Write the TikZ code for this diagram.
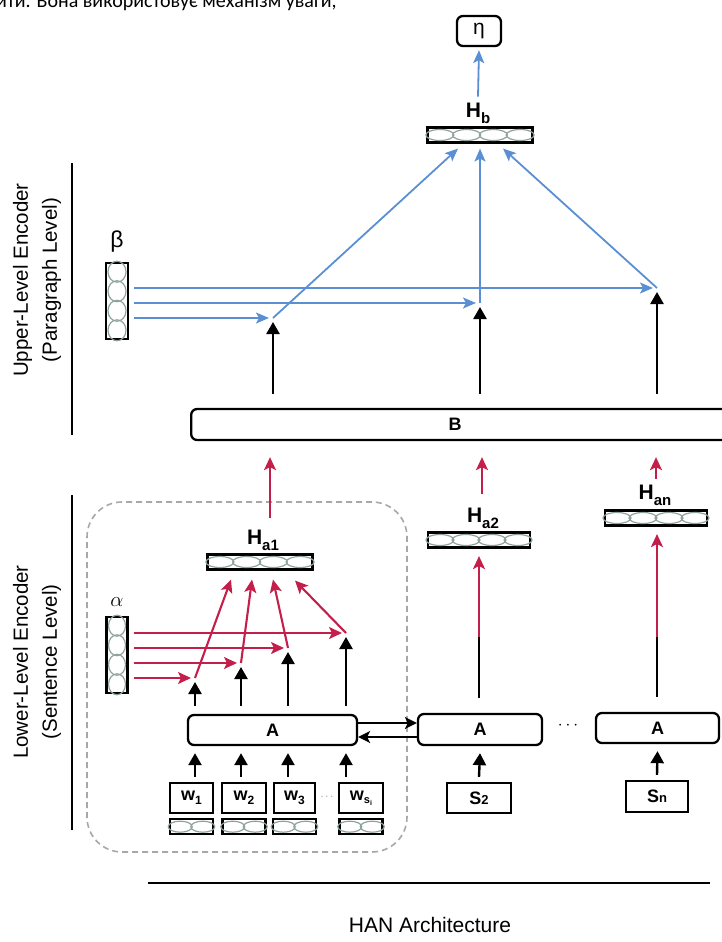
\documentclass[tikz,border=0pt]{standalone}
\usepackage{fontspec}
\setmainfont{Liberation Sans}
\newfontfamily\bodyfont{Carlito}
\usetikzlibrary{arrows.meta,calc}

\definecolor{attblue}{HTML}{5B8FD4}
\definecolor{attred}{HTML}{C41E4A}
\definecolor{cellgray}{HTML}{8FA39B}
\definecolor{dashgray}{HTML}{A8A8A8}

% subscripted bold label, e.g. \sublab{H}{a1}
\newcommand\sublab[2]{\textbf{#1}\raisebox{-0.28em}{\fontsize{15}{15}\selectfont\textbf{#2}}}
% smaller variant for the word boxes
\newcommand\wordlab[1]{\textbf{w}\raisebox{-0.22em}{\fontsize{12}{12}\selectfont\textbf{#1}}}

\begin{document}
\begin{tikzpicture}[x=1pt,y=-1pt,
  box/.style={draw, line width=2.3pt, rounded corners=6pt, inner sep=0pt, font=\fontsize{18}{18}\selectfont\bfseries},
  sqbox/.style={draw, line width=2.3pt, inner sep=0pt, font=\fontsize{18}{18}\selectfont},
  vec/.style={draw, line width=2.1pt, inner sep=0pt},
  cell/.style={draw=cellgray, line width=1.2pt},
  lab/.style={inner sep=0pt, font=\fontsize{20}{20}\selectfont},
  side/.style={rotate=90, align=center, inner sep=0pt, font=\fontsize{20.5}{29}\selectfont},
  blk/.style={line width=2.4pt, -{Triangle[length=12pt,width=13pt]}},
  thinblk/.style={line width=2pt, -{Stealth[length=12pt,width=12pt,inset=3pt]}},
  bluearr/.style={draw=attblue, line width=1.8pt, -{Stealth[length=13pt,width=11pt,inset=3pt]}},
  redarr/.style={draw=attred, line width=2.1pt, -{Stealth[length=13pt,width=12pt,inset=3pt]}},
]
\useasboundingbox (0,0) rectangle (722,942);
\clip (0,0) rectangle (722,942);

% running text line above the figure
\node[anchor=base west, inner sep=0pt, font=\bodyfont\fontsize{20}{24}\selectfont] (runtext) at (-4,8) {ити. Вона використовує механізм уваги,};

% ---------- upper level ----------
\node[box, minimum width=44, minimum height=30, font=\fontsize{21}{21}\selectfont] (eta) at (479,31) {η};
\node[vec, minimum width=105, minimum height=15] (hb) at (480,135) {};
\foreach \i in {1,...,4}
  \draw[cell] ($(hb.west)!{(\i-0.5)/4}!(hb.east)$) ellipse [x radius=14pt, y radius=5.5pt];
\node[lab, font=\fontsize{21}{21}\selectfont] (hblab) at (478,113) {\sublab{H}{b}};
\draw[bluearr] ([yshift=6pt]hblab.north) -- ([yshift=-3pt]eta.south);

\node[vec, minimum width=22, minimum height=76] (beta) at (117,301) {};
\foreach \i in {1,...,4}
  \draw[cell] ($(beta.north)!{(\i-0.5)/4}!(beta.south)$) ellipse [x radius=9pt, y radius=10.5pt];
\node[lab, font=\fontsize{23}{23}\selectfont] (betalab) at (117,242) {β};

\coordinate (u1) at (273,318);
\coordinate (u2) at (480,303);
\coordinate (u3) at (657,288);

\foreach \u in {u1,u2,u3}
  \draw[bluearr] ([xshift=5pt]beta.east |- \u) -- ([xshift=-4pt]\u);
\draw[bluearr] (u1) -- ([xshift=-22pt,yshift=-5pt]hb.south);
\draw[bluearr] (u2) -- ([yshift=-5pt]hb.south);
\draw[bluearr] (u3) -- ([xshift=23pt,yshift=-5pt]hb.south);

\node[box, minimum width=570, minimum height=31, anchor=west] (B) at (190,424.5) {};
\node[lab, font=\fontsize{18}{18}\selectfont\bfseries] (Blab) at (455,424.5) {B};
\foreach \u in {u1,u2,u3}
  \draw[blk] ([yshift=14pt]B.north -| \u) -- ([yshift=-4pt]\u);

% left captions
\draw[line width=2.2pt] (72,163) coordinate (ul1) -- (72,435) coordinate (ul2);
\node[side] (uplab) at (37,280) {Upper-Level Encoder\\(Paragraph Level)};
\draw[line width=2.2pt] (72,495) coordinate (ll1) -- (72,830) coordinate (ll2);
\node[side] (lowlab) at (37,662) {Lower-Level Encoder\\(Sentence Level)};

% ---------- lower level ----------
\node[draw=dashgray, dashed, dash pattern=on 6pt off 4pt, line width=1.6pt, rounded corners=35pt,
      minimum width=320, minimum height=350, inner sep=0pt] (frame) at (247,677) {};

\node[vec, minimum width=105, minimum height=15] (ha1) at (260,562) {};
\node[vec, minimum width=102, minimum height=15] (ha2) at (479,540) {};
\node[vec, minimum width=102, minimum height=15] (han) at (656,518) {};
\foreach \v in {ha1,ha2,han}
  \foreach \i in {1,...,4}
    \draw[cell] ($(\v.west)!{(\i-0.5)/4}!(\v.east)$) ellipse [x radius=14pt, y radius=5.5pt];
\node[lab, font=\fontsize{21}{21}\selectfont] (ha1lab) at (263,540) {\sublab{H}{a1}};
\node[lab, font=\fontsize{21}{21}\selectfont] (ha2lab) at (483,518) {\sublab{H}{a2}};
\node[lab, font=\fontsize{21}{21}\selectfont] (hanlab) at (655,495) {\sublab{H}{an}};

\draw[redarr] ([yshift=12pt]ha1lab.north -| 270,0) -- ([yshift=-16pt]B.south -| 270,0);
\draw[redarr] ([yshift=14pt]ha2lab.north -| 482,0) -- ([yshift=-16pt]B.south -| 482,0);
\draw[redarr] ([yshift=6pt]hanlab.north -| 656,0) -- ([yshift=-16pt]B.south -| 656,0);

\node[vec, minimum width=21, minimum height=76] (alpha) at (117,655) {};
\foreach \i in {1,...,4}
  \draw[cell] ($(alpha.north)!{(\i-0.5)/4}!(alpha.south)$) ellipse [x radius=8.5pt, y radius=10.5pt];
\node[lab, font=\fontsize{21}{21}\selectfont] (alphalab) at (117,602) {$\alpha$};

\coordinate (l1) at (195,678);
\coordinate (l2) at (241,663);
\coordinate (l3) at (288,648);
\coordinate (l4) at (346,633);

\foreach \l in {l1,l2,l3,l4}
  \draw[redarr] ([xshift=5pt]alpha.east |- \l) -- ([xshift=-4pt]\l);
\draw[redarr] (l1) -- ([xshift=-29pt,yshift=-9pt]ha1.south);
\draw[redarr] (l2) -- ([xshift=-8pt,yshift=-9pt]ha1.south);
\draw[redarr] (l3) -- ([xshift=13pt,yshift=-9pt]ha1.south);
\draw[redarr] (l4) -- ([xshift=35pt,yshift=-10pt]ha1.south);

\node[box, minimum width=169, minimum height=30] (A1) at (272.5,730) {A};
\node[box, minimum width=124, minimum height=31] (A2) at (480,729.5) {A};
\node[box, minimum width=123, minimum height=30] (A3) at (657.5,728) {A};
\node[lab, font=\fontsize{16}{16}\selectfont] (adots) at (568,726) {$\cdots$};

\foreach \l in {l1,l2,l3,l4}
  \draw[blk] ([yshift=8pt]A1.north -| \l) -- ([yshift=-4pt]\l);

\draw[thinblk] ([yshift=7pt]A1.east) -- ([yshift=7pt]A1.east -| A2.west);
\draw[thinblk] ([yshift=-7pt]A1.east -| A2.west) -- ([yshift=-7pt]A1.east);

% sentence-level outputs: black from the encoder, turning red towards the vector
\coordinate (m2) at (479,637);
\coordinate (m3) at (657,637);
\draw[line width=2.4pt] ([yshift=15pt]A2.north -| m2) -- (m2);
\draw[redarr] (m2) -- ([yshift=-7.5pt]ha2.south -| m2);
\draw[line width=2.4pt] ([yshift=15pt]A3.north -| m3) -- (m3);
\draw[redarr] (m3) -- ([yshift=-7.5pt]han.south -| m3);

% word inputs
\node[sqbox, minimum width=43, minimum height=30] (w1) at (191.5,798) {\wordlab{1}};
\node[sqbox, minimum width=44, minimum height=30] (w2) at (244,798) {\wordlab{2}};
\node[sqbox, minimum width=41, minimum height=30] (w3) at (294.5,798) {\wordlab{3}};
\node[sqbox, minimum width=44, minimum height=30] (ws) at (361,798) {\textbf{w}\raisebox{-0.2em}{\fontsize{11}{11}\selectfont\textbf{s}\raisebox{-0.15em}{\fontsize{7}{7}\selectfont\textbf{i}}}};
\node[lab, font=\fontsize{11}{11}\selectfont, text=gray] (wdots) at (327,797) {$\cdots$};
\foreach \w in {w1,w2,w3,ws} {
  \node[vec, minimum width=43, minimum height=15, anchor=north] (e\w) at ([yshift=-4pt]\w.south) {};
  \foreach \i in {1,2}
    \draw[cell] ($(e\w.west)!{(\i-0.5)/2}!(e\w.east)$) ellipse [x radius=12pt, y radius=5.5pt];
}
\draw[blk] ([yshift=5pt]w1.north -| l1) -- ([yshift=-7pt]A1.south -| l1);
\draw[blk] ([yshift=5pt]w2.north -| l2) -- ([yshift=-7pt]A1.south -| l2);
\draw[blk] ([yshift=5pt]w3.north -| l3) -- ([yshift=-7pt]A1.south -| l3);
\draw[blk] ([yshift=5pt]ws.north -| l4) -- ([yshift=-7pt]A1.south -| l4);

\node[sqbox, minimum width=64, minimum height=30] (s2) at (479,798) {\textbf{S}{\fontsize{13}{13}\selectfont\textbf{2}}};
\node[sqbox, minimum width=62, minimum height=31] (sn) at (657,796.5) {\textbf{S}{\fontsize{13}{13}\selectfont\textbf{n}}};
\draw[blk] ([yshift=5pt]s2.north) -- ([yshift=-7pt]A2.south);
\draw[blk] ([yshift=5pt]sn.north) -- ([yshift=-7pt]A3.south);

% caption
\draw[line width=2.2pt] (148,883) coordinate (cl1) -- (710,883) coordinate (cl2);
\node[lab, font=\fontsize{21}{21}\selectfont] (caption) at (430,925) {HAN Architecture};
\end{tikzpicture}
\end{document}
